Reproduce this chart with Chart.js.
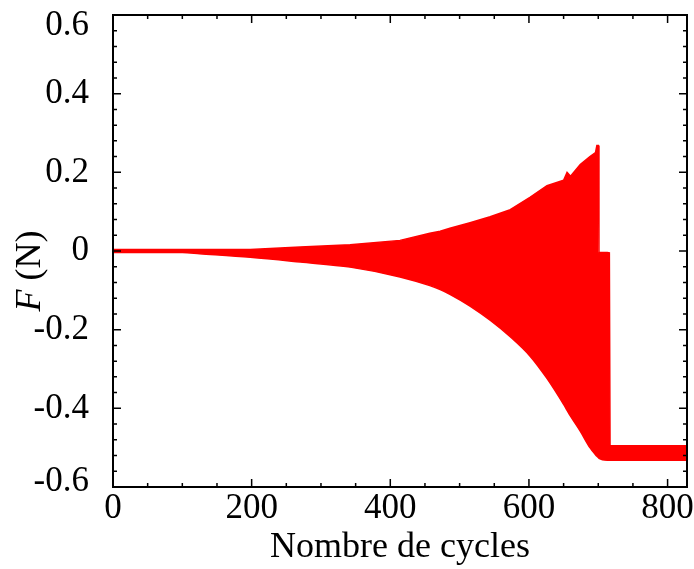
<!DOCTYPE html>
<html>
<head>
<meta charset="utf-8">
<script src="https://cdn.jsdelivr.net/npm/chart.js@4.4.1/dist/chart.umd.min.js"></script>
<style>
  html, body { margin: 0; padding: 0; background: #fff; }
  #wrap { width: 694px; height: 569px; }
</style>
</head>
<body>
<div id="wrap"><canvas id="forceChart" width="694" height="569"></canvas></div>
<script>
// données : enveloppe haute / basse de la force
const cycles = [0, 50, 100, 125, 198, 270, 342, 414, 457, 472, 486, 515, 544, 573, 602, 626, 650, 655, 660, 674, 688, 696, 698, 700, 701, 713, 716, 717, 828];
const forceMax = [0.004, 0.004, 0.004, 0.004, 0.004, 0.01, 0.016, 0.027, 0.045, 0.05, 0.058, 0.072, 0.087, 0.105, 0.137, 0.166, 0.18, 0.2, 0.19, 0.22, 0.24, 0.25, 0.268, 0.268, -0.003, -0.004, -0.005, -0.495, -0.495];
const forceMin = [-0.004, -0.004, -0.004, -0.007, -0.016, -0.028, -0.041, -0.066, -0.088, -0.098, -0.11, -0.14, -0.176, -0.218, -0.268, -0.324, -0.39, -0.405, -0.42, -0.458, -0.5, -0.518, -0.522, -0.525, -0.527, -0.532, -0.532, -0.532, -0.532];

const xTicks = [0, 200, 400, 600, 800];
const yTicks = [-0.6, -0.4, -0.2, 0, 0.2, 0.4, 0.6];

const FONT = "'Liberation Serif', 'Times New Roman', serif";
const RED = '#ff0000';

// cadre + graduations vers l'intérieur + titre Y
const framePlugin = {
  id: 'frame',
  afterDatasetsDraw(chart) {
    const { ctx, chartArea: a, scales: { x, y } } = chart;
    ctx.save();
    ctx.strokeStyle = '#000';
    ctx.lineWidth = 1.5;
    ctx.beginPath();
    for (let v = 0; v <= x.max; v += 50) {
      const px = x.getPixelForValue(v);
      const len = v % 200 === 0 ? 8 : 4;
      ctx.moveTo(px, a.bottom); ctx.lineTo(px, a.bottom - len);
      ctx.moveTo(px, a.top); ctx.lineTo(px, a.top + len);
    }
    for (let i = 0; i <= 30; i++) {
      const v = -0.6 + i * 0.04;
      const py = y.getPixelForValue(v);
      const len = i % 5 === 0 ? 8 : 4;
      ctx.moveTo(a.left, py); ctx.lineTo(a.left + len, py);
      ctx.moveTo(a.right, py); ctx.lineTo(a.right - len, py);
    }
    ctx.stroke();
    ctx.lineWidth = 2;
    ctx.strokeRect(a.left, a.top, a.right - a.left, a.bottom - a.top);

    // titre de l'axe Y : F (N), F en italique
    ctx.translate(31, (a.top + a.bottom) / 2 + 20);
    ctx.rotate(-Math.PI / 2);
    ctx.fillStyle = '#000';
    ctx.textBaseline = 'middle';
    ctx.font = 'italic 36px ' + FONT;
    const wF = ctx.measureText('F').width;
    ctx.font = '36px ' + FONT;
    const wN = ctx.measureText(' (N)').width;
    const x0 = -(wF + wN) / 2;
    ctx.textAlign = 'left';
    ctx.font = 'italic 36px ' + FONT;
    ctx.fillText('F', x0, 0);
    ctx.font = '36px ' + FONT;
    ctx.fillText(' (N)', x0 + wF, 0);
    ctx.restore();
  }
};

new Chart(document.getElementById('forceChart'), {
  type: 'line',
  data: {
    datasets: [{
      data: cycles.map((c, i) => ({ x: c, y: forceMax[i] })),
      borderColor: RED,
      borderWidth: 1.5,
      pointRadius: 0,
      fill: false
    }, {
      data: cycles.map((c, i) => ({ x: c, y: forceMin[i] })),
      borderColor: RED,
      backgroundColor: RED,
      borderWidth: 1.5,
      pointRadius: 0,
      cubicInterpolationMode: 'monotone',
      fill: '-1'
    }]
  },
  options: {
    responsive: false,
    animation: false,
    layout: { padding: { top: 15, right: 7, bottom: 0, left: 0 } },
    plugins: { legend: { display: false }, tooltip: { enabled: false } },
    scales: {
      x: {
        type: 'linear',
        min: 0, max: 828,
        grid: { display: false },
        border: { display: false },
        afterBuildTicks: s => { s.ticks = xTicks.map(v => ({ value: v })); },
        afterFit: s => { s.height = 82; s.paddingLeft = 0; s.paddingRight = 0; },
        ticks: {
          color: '#000',
          padding: -7,
          maxRotation: 0,
          autoSkip: false,
          font: { family: FONT, size: 35 }
        },
        title: {
          display: true,
          text: 'Nombre de cycles',
          color: '#000',
          padding: 0,
          font: { family: FONT, size: 36 }
        }
      },
      y: {
        min: -0.6, max: 0.6,
        grid: { display: false },
        border: { display: false },
        afterBuildTicks: s => { s.ticks = yTicks.map(v => ({ value: v })); },
        afterFit: s => { s.width = 113; s.paddingTop = 0; s.paddingBottom = 0; },
        ticks: {
          color: '#000',
          padding: 16,
          autoSkip: false,
          // les étiquettes extrêmes sont rentrées dans le cadre
          callback: v => {
            const t = String(Math.round(v * 10) / 10);
            if (v > 0.55) return ['', t];
            if (v < -0.55) return [t, ''];
            return t;
          },
          font: c => {
            const v = c.tick ? c.tick.value : 0;
            if (v > 0.55) return { family: FONT, size: 35, lineHeight: '21px' };
            if (v < -0.55) return { family: FONT, size: 35, lineHeight: '10px' };
            return { family: FONT, size: 35 };
          }
        }
      }
    }
  },
  plugins: [framePlugin]
});
</script>
</body>
</html>
